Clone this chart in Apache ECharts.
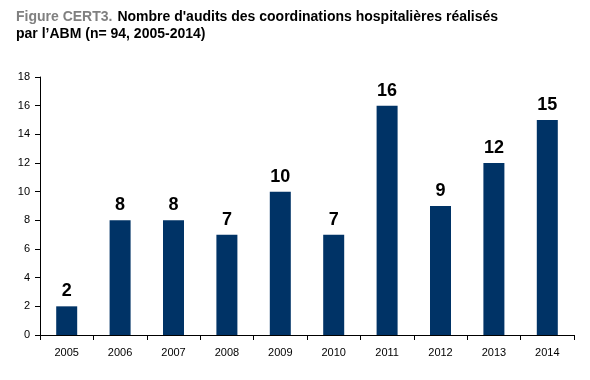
<!DOCTYPE html>
<html><head><meta charset="utf-8">
<script src="https://cdn.jsdelivr.net/npm/echarts@6/dist/echarts.min.js"></script>
<style>html,body{margin:0;padding:0;background:#fff}#c{width:590px;height:380px}</style>
</head><body><div id="c"></div>
<script>
const categories = ['2005','2006','2007','2008','2009','2010','2011','2012','2013','2014'];
const audits = [2, 8, 8, 7, 10, 7, 16, 9, 12, 15];
const yTicks = [0, 2, 4, 6, 8, 10, 12, 14, 16, 18];

const chart = echarts.init(document.getElementById('c'), null, {renderer: 'canvas'});
chart.setOption({
  animation: false,
  backgroundColor: '#ffffff',
  textStyle: {fontFamily: 'Liberation Sans, Arial, sans-serif'},
  title: {
    left: 16, top: 8, padding: 0,
    text: '{g|Figure CERT3.} {b|Nombre d\'audits des coordinations hospitalières réalisés}\n{b|par l\u2019ABM (n= 94, 2005-2014)}',
    textStyle: {
      rich: {
        g: {color: '#808080', fontWeight: 'bold', fontSize: 14, lineHeight: 17, fontFamily: 'Liberation Sans'},
        b: {color: '#000000', fontWeight: 'bold', fontSize: 14, lineHeight: 17, fontFamily: 'Liberation Sans'}
      }
    }
  },
  grid: {left: 40, right: 16, top: 77, bottom: 45, containLabel: false},
  xAxis: {
    type: 'category',
    data: categories,
    axisLine: {lineStyle: {color: '#000', width: 1}},
    axisTick: {show: true, alignWithLabel: false, length: 5, lineStyle: {color: '#000'}},
    axisLabel: {color: '#000', fontSize: 11, margin: 12, fontFamily: 'Liberation Sans'},
    splitLine: {show: false}
  },
  yAxis: {
    type: 'value',
    min: yTicks[0], max: yTicks[yTicks.length - 1], interval: 2,
    axisLine: {show: true, lineStyle: {color: '#000', width: 1}},
    axisTick: {show: true, length: 5, lineStyle: {color: '#000'}},
    axisLabel: {color: '#000', fontSize: 11, margin: 10, fontFamily: 'Liberation Sans'},
    splitLine: {show: false}
  },
  series: [{
    type: 'bar',
    data: audits,
    barWidth: 21,
    itemStyle: {color: '#003366'},
    label: {
      show: true, position: 'top', distance: 6,
      color: '#000', fontSize: 18, fontWeight: 'bold', fontFamily: 'Liberation Sans'
    }
  }]
});
</script></body></html>
